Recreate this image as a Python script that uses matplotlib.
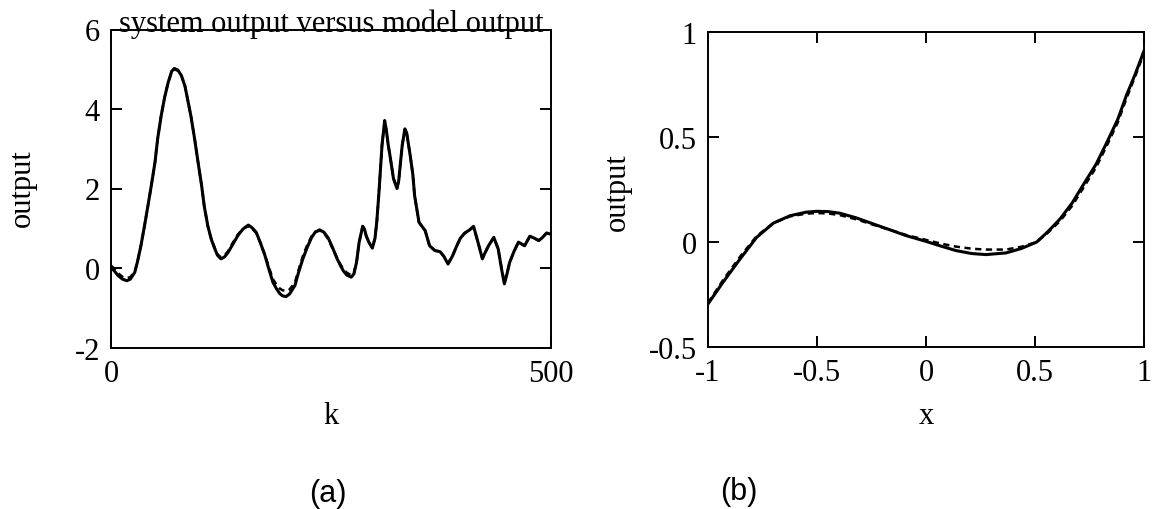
import numpy as np
import matplotlib.pyplot as plt

plt.rcParams['font.family'] = ['Liberation Serif', 'DejaVu Serif']
plt.rcParams['axes.unicode_minus'] = False

# (a) system output vs model output over time step k
k = [0, 4, 8, 13, 18, 22, 27, 30, 34, 38,
     42, 46, 50, 53, 57, 61, 65, 69, 72, 76,
     80, 84, 87, 91, 95, 99, 103, 106, 110, 114,
     118, 121, 125, 129, 133, 138, 144, 150, 156, 160,
     165, 170, 175, 179, 184, 188, 192, 195, 199, 203,
     209, 213, 218, 223, 228, 232, 237, 242, 247, 252,
     257, 261, 264, 268, 273, 276, 279, 282, 286, 288,
     290, 293, 297, 300, 302, 304, 306, 308, 311, 313,
     315, 317, 321, 325, 327, 329, 331, 334, 336, 340,
     343, 345, 350, 357, 362, 368, 374, 378, 383, 388,
     393, 397, 402, 407, 412, 417, 422, 425, 429, 435,
     440, 444, 447, 450, 453, 458, 463, 470, 476, 481,
     486, 490, 495, 500]
system_out = [0.02, -0.08, -0.19, -0.28, -0.32, -0.28, -0.11, 0.15, 0.56, 1.05,
              1.57, 2.10, 2.66, 3.25, 3.83, 4.30, 4.67, 4.95, 5.02, 4.98,
              4.84, 4.58, 4.25, 3.80, 3.25, 2.65, 2.07, 1.55, 1.06, 0.72,
              0.48, 0.32, 0.23, 0.28, 0.39, 0.58, 0.81, 0.98, 1.08, 1.02,
              0.90, 0.62, 0.31, 0.00, -0.36, -0.52, -0.65, -0.70, -0.72, -0.65,
              -0.44, -0.12, 0.23, 0.52, 0.77, 0.90, 0.96, 0.90, 0.75, 0.50,
              0.23, 0.05, -0.07, -0.18, -0.23, -0.15, 0.14, 0.65, 1.05, 0.98,
              0.81, 0.65, 0.50, 0.75, 1.15, 1.75, 2.41, 3.10, 3.71, 3.45,
              3.10, 2.83, 2.25, 2.00, 2.20, 2.66, 3.10, 3.50, 3.40, 2.83,
              2.35, 1.82, 1.15, 0.94, 0.56, 0.44, 0.41, 0.30, 0.10, 0.30,
              0.56, 0.75, 0.88, 0.95, 1.05, 0.65, 0.23, 0.38, 0.56, 0.77,
              0.48, -0.05, -0.40, -0.15, 0.14, 0.42, 0.65, 0.56, 0.80, 0.75,
              0.69, 0.76, 0.88, 0.85]
model_out = [0.06, -0.02, -0.13, -0.22, -0.25, -0.23, -0.08, 0.15, 0.56, 1.05,
             1.57, 2.10, 2.66, 3.25, 3.83, 4.30, 4.67, 4.94, 5.00, 4.96,
             4.84, 4.58, 4.25, 3.80, 3.25, 2.65, 2.07, 1.55, 1.06, 0.72,
             0.50, 0.34, 0.27, 0.32, 0.42, 0.62, 0.84, 0.99, 1.05, 1.00,
             0.88, 0.62, 0.33, 0.05, -0.28, -0.42, -0.52, -0.56, -0.58, -0.54,
             -0.36, -0.06, 0.30, 0.58, 0.80, 0.91, 0.94, 0.88, 0.72, 0.48,
             0.25, 0.08, -0.02, -0.12, -0.18, -0.12, 0.14, 0.65, 1.05, 0.98,
             0.81, 0.65, 0.50, 0.75, 1.15, 1.75, 2.41, 3.10, 3.70, 3.45,
             3.10, 2.83, 2.25, 2.00, 2.20, 2.66, 3.10, 3.48, 3.40, 2.83,
             2.35, 1.82, 1.15, 0.94, 0.56, 0.44, 0.41, 0.30, 0.12, 0.30,
             0.56, 0.75, 0.88, 0.95, 1.03, 0.65, 0.25, 0.38, 0.56, 0.77,
             0.48, -0.03, -0.36, -0.13, 0.14, 0.42, 0.65, 0.56, 0.80, 0.75,
             0.69, 0.76, 0.88, 0.85]

# (b) static nonlinearity: system vs model
x = [-1.0, -0.93, -0.853, -0.777, -0.70, -0.624, -0.55, -0.502, -0.45, -0.395,
     -0.32, -0.242, -0.16, -0.09, 0.0, 0.07, 0.138, 0.21, 0.275, 0.367,
     0.44, 0.508, 0.56, 0.615, 0.67, 0.72, 0.78, 0.83, 0.88, 0.92, 0.96, 1.0]
f_system = [-0.295, -0.19, -0.081, 0.022, 0.09, 0.125, 0.142, 0.146, 0.145,
            0.137, 0.115, 0.086, 0.056, 0.03, 0.003, -0.02, -0.041, -0.055,
            -0.06, -0.052, -0.03, 0.0, 0.05, 0.11, 0.185, 0.27, 0.37, 0.475,
            0.585, 0.70, 0.80, 0.91]
f_model = [-0.29, -0.18, -0.07, 0.028, 0.09, 0.122, 0.135, 0.138, 0.136,
           0.128, 0.108, 0.082, 0.056, 0.033, 0.01, -0.008, -0.022, -0.032,
           -0.036, -0.036, -0.022, 0.0, 0.045, 0.10, 0.172, 0.255, 0.355,
           0.46, 0.57, 0.685, 0.79, 0.90]

fs = 22

fig = plt.figure(figsize=(11.52, 5.10), dpi=100)
ax1 = fig.add_axes([111 / 1152, 1 - 348.5 / 510, 440 / 1152, 318 / 510])
ax2 = fig.add_axes([708 / 1152, 1 - 348 / 510, 436 / 1152, 315 / 510])

ax1.plot(k, system_out, color='black', lw=2.2, solid_joinstyle='round')
ax1.plot(k, model_out, color='black', lw=1.8, ls=(0, (2.5, 1.8)))
ax1.set_xlim(0, 500)
ax1.set_ylim(-2, 6)
ax1.set_xticks([0, 500])
ax1.set_yticks([-2, 0, 2, 4, 6])
ax1.set_title('system output versus model output', fontsize=fs, pad=-1)
ax1.set_xlabel('k', fontsize=fs)
ax1.set_ylabel('output', fontsize=fs)
ax1.xaxis.set_label_coords(0.5, -(416 - 348.5) / 318)
ax1.xaxis.label.set_va('center')
ax1.yaxis.set_label_coords(-(111 - 22) / 440, (348.5 - 188) / 318)
ax1.yaxis.label.set_va('center')

ax2.plot(x, f_system, color='black', lw=2.2, solid_joinstyle='round')
ax2.plot(x, f_model, color='black', lw=1.8, ls=(0, (2.5, 1.8)))
ax2.set_xlim(-1, 1)
ax2.set_ylim(-0.5, 1)
ax2.set_xticks([-1, -0.5, 0, 0.5, 1])
ax2.set_xticklabels(['-1', '-0.5', '0', '0.5', '1'])
ax2.set_yticks([-0.5, 0, 0.5, 1])
ax2.set_yticklabels(['-0.5', '0', '0.5', '1'])
ax2.set_xlabel('x', fontsize=fs)
ax2.set_ylabel('output', fontsize=fs)
ax2.xaxis.set_label_coords(0.5, -(416 - 348) / 315)
ax2.xaxis.label.set_va('center')
ax2.yaxis.set_label_coords(-(708 - 617) / 436, (348 - 192) / 315)
ax2.yaxis.label.set_va('center')

for ax in (ax1, ax2):
    for sp in ax.spines.values():
        sp.set_linewidth(1.4)
    ax.tick_params(direction='in', length=8, width=1.4, labelsize=fs,
                   top=True, right=True, pad=8)

fig.text(328 / 1152, 1 - 494 / 510, '(a)', fontsize=fs, ha='center',
         va='center', family=['Liberation Sans', 'DejaVu Sans'])
fig.text(739 / 1152, 1 - 492 / 510, '(b)', fontsize=fs, ha='center',
         va='center', family=['Liberation Sans', 'DejaVu Sans'])

fig.savefig('out.png', dpi=100)
